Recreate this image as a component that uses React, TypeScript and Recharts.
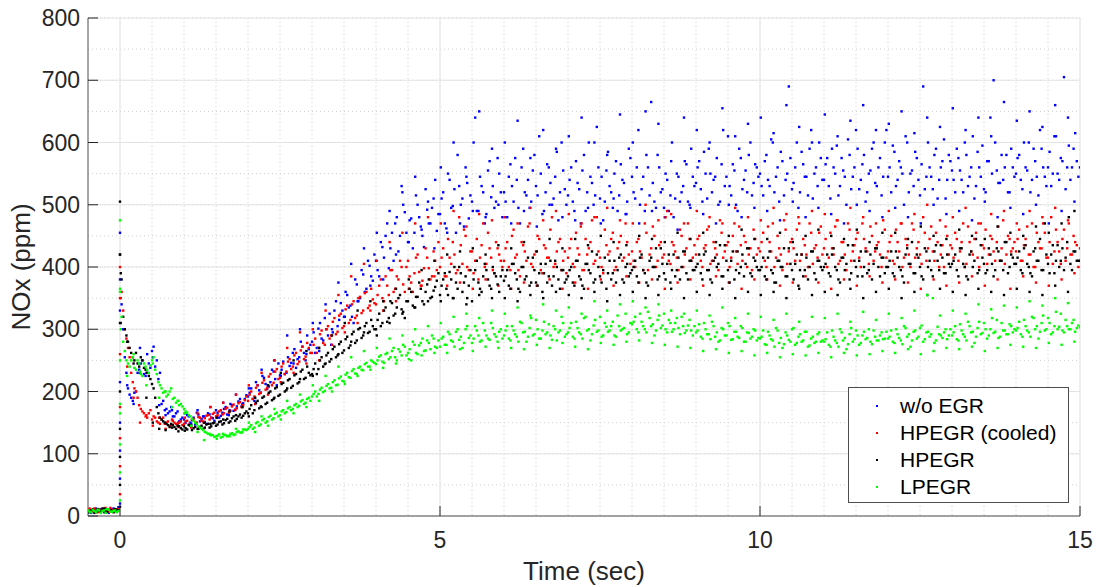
import {
  CartesianGrid,
  Legend,
  Scatter,
  ScatterChart,
  XAxis,
  YAxis,
} from 'recharts';

// three interleaved sample sets:
// A every 0.05 s from -0.5 s to 15 s, B every 0.05 s from -0.475 s,
// C (band edges) every 0.1 s from 0.0125 s
const T0_A = -0.5;
const T0_B = -0.475;
const T0_C = 0.0125;
const STEP = 0.05;
const STEP_C = 0.1;

const blueNoxA = [
  8, 5, 10, 7, 11, 6, 9, 8, 12, 7,
  380, 300, 230, 195, 185, 200, 235, 250, 225, 245, 265, 240, 220, 180, 170, 165, 175, 160, 168, 155,
  155, 162, 150, 158, 166, 152, 160, 148, 163, 157, 170, 158, 166, 175, 162, 178, 171, 184, 176, 188,
  192, 205, 185, 210, 198, 222, 204, 215, 232, 210, 226, 248, 230, 241, 262, 238, 255, 272, 250, 268,
  280, 262, 301, 285, 318, 290, 275, 330, 305, 342, 320, 355, 338, 310, 372, 350, 388, 365, 402, 378,
  410, 385, 432, 450, 398, 455, 470, 425, 530, 488, 440, 478, 455, 500, 465, 432, 492, 470, 510, 458,
  485, 520, 462, 540, 498, 455, 530, 510, 560, 478, 505, 640, 490, 530, 470, 555, 512, 495, 575, 520,
  520, 480, 565, 505, 540, 470, 590, 515, 495, 555, 530, 610, 485, 520, 560, 500, 545, 475, 600, 525,
  515, 560, 490, 535, 470, 580, 520, 545, 500, 625, 510, 475, 555, 530, 495, 570, 515, 540, 485, 590,
  545, 510, 620, 525, 490, 560, 665, 505, 580, 520, 495, 540, 515, 480, 550, 505, 530, 565, 500, 545,
  535, 570, 505, 550, 590, 520, 545, 500, 565, 530, 610, 515, 555, 490, 575, 540, 520, 600, 535, 560,
  550, 515, 580, 530, 600, 545, 505, 570, 540, 690, 525, 560, 495, 585, 545, 515, 620, 550, 530, 575,
  540, 575, 510, 560, 595, 530, 555, 500, 580, 545, 620, 525, 565, 505, 550, 590, 535, 560, 515, 600,
  545, 520, 585, 540, 560, 500, 600, 550, 530, 575, 515, 690, 545, 560, 525, 590, 540, 570, 510, 580,
  555, 520, 575, 540, 600, 530, 560, 510, 585, 545, 525, 570, 640, 700, 555, 535, 540, 580, 520, 560,
  550, 580, 525, 560, 600, 540, 570, 515, 590, 545, 560, 530, 610, 550, 575, 705, 560, 540, 590, 570,
  560,
];
const blueNoxB = [
  6, 9, 12, 7, 10, 8, 5, 11, 9, 14,
  340, 255, 205, 190, 198, 230, 245, 228, 260, 238, 272, 250, 230, 185, 172, 168, 160, 165, 152, 158,
  150, 160, 154, 147, 163, 156, 151, 165, 158, 153, 166, 161, 172, 163, 180, 169, 176, 188, 181, 194,
  198, 188, 215, 202, 225, 212, 208, 235, 220, 245, 235, 228, 255, 246, 268, 252, 280, 262, 290, 275,
  295, 270, 310, 282, 300, 325, 295, 345, 315, 330, 360, 335, 320, 380, 345, 395, 360, 410, 385, 420,
  395, 440, 415, 470, 430, 410, 480, 450, 500, 455, 475, 430, 515, 480, 450, 525, 470, 495, 540, 485,
  510, 470, 550, 495, 525, 580, 500, 465, 535, 515, 600, 490, 545, 520, 485, 570, 530, 505, 550, 480,
  505, 545, 530, 575, 495, 560, 520, 540, 505, 580, 515, 550, 490, 565, 535, 510, 585, 520, 555, 500,
  540, 505, 570, 525, 555, 490, 600, 535, 515, 560, 545, 505, 585, 520, 550, 490, 565, 535, 505, 575,
  520, 560, 500, 545, 580, 515, 535, 495, 560, 525, 550, 490, 600, 510, 545, 520, 570, 505, 590, 530,
  560, 525, 585, 510, 550, 540, 575, 505, 620, 545, 530, 565, 500, 590, 525, 555, 580, 515, 565, 545,
  530, 570, 540, 605, 520, 560, 585, 515, 550, 575, 535, 600, 520, 565, 545, 590, 510, 560, 600, 540,
  565, 530, 590, 550, 515, 575, 545, 605, 525, 560, 590, 540, 580, 520, 555, 600, 530, 575, 545, 620,
  560, 595, 530, 570, 550, 610, 520, 555, 585, 540, 565, 525, 600, 545, 580, 510, 560, 605, 540, 570,
  540, 590, 555, 520, 580, 545, 610, 530, 560, 595, 520, 570, 550, 600, 535, 580, 560, 520, 590, 545,
  575, 540, 600, 555, 520, 590, 545, 620, 560, 530, 585, 550, 610, 540, 570, 525, 595, 560, 615, 545,
];
const blueNoxC = [
  310, 210, 180, 270, 230, 255, 178, 162, 170, 150,
  165, 148, 170, 160, 175, 158, 182, 170, 195, 180,
  205, 180, 235, 210, 250, 225, 290, 245, 300, 260,
  310, 265, 340, 300, 375, 320, 405, 345, 430, 370,
  455, 380, 490, 420, 520, 440, 545, 460, 505, 430,
  560, 455, 600, 470, 545, 490, 650, 480, 590, 500,
  600, 470, 635, 490, 575, 465, 620, 500, 590, 480,
  610, 475, 640, 495, 600, 470, 580, 510, 645, 485,
  600, 470, 650, 490, 630, 480, 570, 460, 640, 495,
  620, 485, 600, 470, 655, 500, 610, 480, 630, 495,
  640, 490, 615, 475, 660, 505, 625, 480, 600, 495,
  645, 485, 610, 470, 635, 500, 660, 490, 620, 480,
  630, 495, 650, 480, 615, 470, 640, 500, 625, 485,
  655, 490, 620, 475, 640, 505, 610, 480, 665, 495,
  635, 485, 650, 500, 625, 470, 660, 490, 640, 505,
];

const redNoxA = [
  10, 7, 12, 6, 9, 11, 8, 13, 7, 10,
  400, 330, 285, 255, 215, 200, 178, 168, 160, 165, 155, 158, 150, 155, 148, 152, 146, 150, 147, 152,
  148, 153, 145, 156, 150, 158, 152, 161, 155, 164, 160, 168, 163, 172, 166, 176, 170, 181, 175, 186,
  185, 200, 192, 210, 198, 218, 206, 228, 214, 236, 222, 245, 232, 252, 240, 262, 248, 272, 256, 270,
  262, 285, 270, 298, 275, 305, 290, 318, 296, 325, 305, 338, 315, 345, 322, 352, 330, 360, 338, 348,
  340, 370, 350, 385, 355, 395, 365, 380, 400, 360, 410, 375, 390, 420, 370, 398, 415, 380, 425, 395,
  400, 430, 385, 415, 440, 390, 480, 405, 450, 395, 425, 410, 380, 435, 400, 455, 415, 390, 430, 410,
  410, 440, 395, 460, 420, 385, 435, 410, 470, 400, 425, 445, 390, 430, 415, 480, 405, 440, 395, 425,
  415, 445, 400, 430, 465, 395, 420, 440, 405, 480, 415, 390, 435, 425, 455, 400, 440, 410, 470, 420,
  425, 400, 445, 415, 470, 395, 430, 450, 410, 440, 420, 490, 405, 435, 415, 460, 400, 430, 445, 415,
  420, 450, 400, 435, 465, 410, 430, 395, 455, 425, 440, 415, 470, 405, 435, 450, 400, 430, 460, 420,
  425, 455, 400, 440, 470, 415, 430, 395, 460, 425, 445, 410, 480, 420, 435, 400, 455, 430, 415, 465,
  430, 400, 455, 420, 475, 410, 440, 395, 460, 425, 445, 415, 470, 430, 405, 450, 425, 440, 400, 460,
  425, 450, 405, 440, 470, 415, 435, 400, 460, 430, 420, 480, 410, 445, 425, 455, 400, 435, 465, 420,
  430, 455, 410, 440, 400, 465, 425, 445, 415, 470, 430, 405, 450, 425, 440, 410, 475, 420, 445, 430,
  425, 460, 410, 445, 420, 470, 400, 440, 430, 455, 415, 480, 425, 440, 405, 460, 430, 420, 450, 435,
  430,
];
const redNoxB = [
  12, 8, 6, 11, 9, 13, 7, 10, 8, 11,
  360, 300, 270, 230, 205, 190, 172, 165, 158, 170, 160, 152, 148, 158, 150, 145, 153, 148, 150, 146,
  152, 147, 155, 150, 159, 153, 157, 162, 158, 166, 162, 170, 165, 174, 169, 179, 173, 183, 178, 192,
  195, 188, 206, 196, 214, 203, 224, 210, 232, 220, 240, 228, 248, 236, 258, 244, 266, 252, 278, 262,
  275, 262, 292, 278, 300, 285, 312, 292, 322, 302, 332, 310, 340, 318, 350, 326, 358, 334, 365, 342,
  355, 380, 345, 370, 395, 360, 385, 410, 372, 400, 385, 360, 415, 392, 378, 430, 398, 385, 410, 440,
  415, 385, 445, 405, 420, 395, 435, 460, 400, 425, 390, 445, 415, 470, 405, 430, 395, 440, 420, 400,
  430, 400, 450, 415, 395, 440, 425, 465, 405, 420, 450, 395, 435, 415, 460, 400, 425, 445, 410, 390,
  430, 405, 455, 420, 395, 445, 430, 475, 410, 425, 400, 460, 420, 445, 395, 430, 450, 415, 440, 405,
  410, 440, 425, 395, 455, 420, 465, 400, 435, 415, 480, 410, 440, 425, 395, 450, 420, 470, 410, 435,
  445, 410, 430, 460, 405, 440, 420, 475, 415, 435, 400, 450, 425, 465, 410, 440, 420, 395, 445, 430,
  440, 410, 465, 425, 400, 450, 420, 475, 405, 440, 430, 460, 410, 445, 420, 470, 405, 435, 455, 420,
  445, 415, 430, 465, 405, 440, 420, 470, 410, 435, 455, 400, 445, 425, 465, 410, 435, 420, 475, 415,
  440, 410, 460, 425, 400, 445, 420, 470, 415, 440, 405, 455, 430, 465, 410, 440, 420, 400, 450, 435,
  415, 445, 425, 470, 405, 440, 420, 455, 400, 435, 460, 420, 445, 410, 465, 430, 405, 450, 425, 440,
  445, 410, 435, 465, 420, 400, 455, 430, 470, 415, 440, 405, 460, 425, 445, 410, 470, 420, 440, 400,
];
const redNoxC = [
  350, 240, 190, 150, 162, 145, 158, 140, 155, 143,
  158, 142, 165, 150, 175, 160, 182, 168, 195, 175,
  210, 180, 230, 195, 250, 215, 270, 230, 295, 245,
  300, 250, 330, 275, 355, 295, 385, 310, 405, 330,
  410, 330, 440, 345, 455, 365, 470, 370, 480, 385,
  470, 370, 490, 375, 465, 365, 485, 380, 475, 370,
  480, 365, 470, 375, 495, 370, 475, 380, 490, 365,
  485, 375, 470, 365, 480, 380, 495, 370, 475, 385,
  470, 375, 500, 380, 475, 365, 485, 375, 470, 380,
  490, 370, 480, 385, 470, 375, 495, 365, 480, 380,
  475, 380, 495, 370, 485, 375, 470, 385, 490, 375,
  485, 365, 475, 380, 495, 370, 480, 385, 470, 375,
  490, 380, 470, 375, 485, 365, 500, 380, 475, 370,
  480, 375, 495, 385, 470, 370, 485, 380, 490, 365,
  470, 385, 490, 375, 480, 370, 495, 380, 475, 390,
];

const blackNoxA = [
  6, 9, 5, 11, 8, 12, 7, 9, 6, 10,
  420, 320, 290, 270, 255, 262, 240, 250, 235, 225, 212, 190, 165, 155, 150, 146, 148, 143, 145, 141,
  144, 139, 146, 141, 148, 143, 140, 147, 142, 149, 145, 151, 147, 154, 150, 157, 153, 160, 158, 165,
  165, 178, 170, 185, 176, 192, 182, 200, 188, 207, 195, 214, 202, 220, 209, 228, 215, 235, 222, 230,
  228, 245, 236, 255, 244, 262, 252, 272, 258, 280, 266, 288, 274, 296, 282, 302, 290, 310, 296, 305,
  300, 325, 310, 335, 318, 342, 325, 350, 332, 318, 345, 360, 335, 352, 365, 340, 372, 350, 362, 378,
  355, 380, 365, 392, 350, 375, 400, 360, 385, 370, 345, 395, 375, 360, 405, 380, 365, 390, 372, 385,
  378, 395, 365, 405, 380, 360, 400, 385, 370, 415, 375, 390, 360, 405, 385, 370, 410, 380, 395, 375,
  385, 400, 370, 410, 380, 365, 405, 390, 375, 420, 385, 395, 365, 410, 390, 375, 415, 380, 400, 385,
  395, 410, 375, 420, 390, 370, 415, 400, 380, 430, 390, 405, 375, 420, 395, 380, 425, 390, 410, 395,
  400, 420, 380, 425, 395, 375, 415, 405, 385, 435, 395, 410, 380, 425, 400, 385, 430, 390, 415, 400,
  395, 415, 380, 425, 390, 375, 410, 400, 385, 430, 395, 405, 370, 420, 395, 380, 425, 390, 410, 400,
  400, 420, 385, 430, 395, 375, 415, 405, 380, 435, 400, 410, 385, 425, 395, 380, 430, 400, 415, 390,
  400, 425, 385, 415, 395, 375, 430, 405, 390, 420, 400, 380, 425, 410, 385, 435, 395, 415, 390, 405,
  405, 420, 385, 430, 400, 380, 425, 410, 390, 435, 405, 395, 420, 385, 430, 410, 395, 440, 400, 415,
  405, 425, 390, 435, 400, 385, 430, 410, 395, 470, 405, 420, 390, 435, 410, 395, 440, 405, 425, 410,
  410,
];
const blackNoxB = [
  8, 11, 7, 9, 12, 6, 10, 8, 11, 9,
  380, 300, 280, 262, 250, 245, 255, 238, 230, 220, 205, 175, 158, 152, 148, 143, 146, 140, 144, 139,
  141, 146, 138, 143, 140, 145, 142, 148, 144, 150, 147, 152, 149, 156, 152, 160, 156, 163, 161, 168,
  172, 165, 182, 173, 190, 180, 198, 186, 205, 193, 212, 200, 218, 206, 226, 213, 232, 220, 240, 226,
  236, 228, 250, 240, 258, 248, 268, 255, 276, 262, 284, 270, 292, 278, 300, 286, 305, 294, 315, 300,
  315, 305, 330, 312, 345, 322, 335, 355, 328, 345, 365, 338, 352, 375, 345, 360, 380, 352, 368, 390,
  370, 390, 355, 380, 400, 365, 390, 375, 350, 395, 380, 410, 365, 385, 395, 370, 400, 385, 360, 395,
  385, 370, 405, 390, 365, 400, 380, 415, 375, 395, 370, 405, 390, 375, 410, 385, 400, 365, 395, 380,
  395, 375, 410, 385, 370, 405, 395, 425, 380, 400, 375, 415, 390, 380, 410, 395, 420, 375, 405, 390,
  400, 385, 415, 395, 375, 410, 400, 430, 385, 405, 380, 420, 395, 385, 415, 400, 425, 380, 410, 395,
  405, 390, 420, 395, 380, 410, 400, 435, 385, 410, 375, 425, 395, 390, 420, 405, 430, 385, 410, 395,
  400, 385, 415, 395, 375, 410, 400, 430, 385, 405, 380, 420, 395, 385, 415, 400, 425, 380, 410, 395,
  405, 390, 420, 400, 380, 415, 395, 435, 390, 410, 385, 425, 400, 390, 420, 405, 430, 385, 415, 400,
  410, 390, 425, 400, 385, 420, 405, 440, 390, 415, 385, 430, 400, 395, 425, 410, 435, 390, 420, 400,
  410, 395, 430, 405, 385, 420, 400, 445, 395, 415, 390, 430, 405, 395, 425, 410, 440, 390, 420, 405,
  415, 395, 430, 405, 390, 425, 410, 445, 395, 420, 390, 435, 410, 400, 430, 415, 480, 395, 425, 410,
];
const blackNoxC = [
  390, 280, 245, 230, 190, 150, 140, 138, 142, 136,
  137, 145, 140, 150, 148, 158, 155, 168, 162, 175,
  160, 190, 175, 210, 190, 230, 205, 250, 220, 265,
  225, 270, 245, 290, 260, 310, 280, 330, 295, 345,
  290, 345, 310, 365, 325, 380, 335, 395, 345, 410,
  345, 420, 350, 425, 340, 430, 355, 420, 350, 435,
  350, 430, 345, 440, 355, 425, 350, 445, 360, 430,
  355, 445, 350, 435, 360, 450, 345, 440, 355, 435,
  360, 450, 350, 445, 355, 440, 365, 455, 350, 445,
  360, 455, 355, 440, 365, 450, 350, 460, 360, 445,
  355, 445, 360, 455, 350, 440, 365, 450, 355, 460,
  360, 450, 355, 445, 365, 460, 350, 440, 360, 455,
  365, 455, 350, 445, 360, 465, 355, 450, 365, 445,
  360, 460, 355, 450, 365, 445, 360, 465, 355, 455,
  365, 450, 360, 465, 355, 455, 370, 470, 360, 490,
];

const greenNoxA = [
  9, 6, 8, 10, 5, 9, 11, 7, 8, 6,
  360, 280, 250, 240, 255, 235, 245, 225, 240, 230, 250, 235, 215, 205, 200, 195, 205, 190, 185, 180,
  172, 166, 160, 153, 148, 142, 138, 134, 132, 130, 128, 131, 127, 130, 129, 133, 131, 136, 134, 139,
  140, 146, 142, 151, 147, 156, 152, 161, 157, 166, 162, 170, 167, 175, 172, 180, 177, 186, 182, 190,
  192, 200, 196, 206, 201, 212, 206, 218, 211, 224, 216, 230, 222, 236, 228, 240, 234, 246, 240, 248,
  244, 256, 248, 260, 252, 265, 255, 268, 258, 272, 262, 250, 275, 260, 278, 265, 282, 268, 285, 270,
  272, 288, 275, 292, 280, 296, 283, 270, 300, 286, 278, 305, 290, 282, 298, 285, 310, 292, 280, 300,
  290, 305, 282, 298, 288, 312, 295, 280, 302, 290, 315, 285, 298, 292, 308, 283, 300, 295, 320, 288,
  295, 310, 285, 302, 292, 318, 298, 282, 306, 296, 320, 290, 304, 298, 312, 288, 305, 300, 325, 295,
  308, 320, 295, 312, 300, 328, 305, 290, 315, 302, 325, 295, 310, 300, 318, 292, 305, 298, 315, 290,
  295, 308, 285, 300, 292, 312, 288, 280, 302, 290, 310, 283, 296, 288, 305, 280, 295, 285, 300, 282,
  285, 298, 275, 290, 282, 302, 278, 270, 295, 283, 300, 275, 288, 280, 296, 272, 285, 278, 292, 280,
  280, 295, 272, 288, 278, 300, 282, 268, 292, 280, 298, 275, 290, 284, 300, 276, 288, 282, 295, 285,
  285, 298, 278, 292, 282, 305, 288, 272, 296, 285, 302, 280, 295, 288, 350, 282, 292, 286, 300, 290,
  290, 305, 282, 298, 288, 312, 295, 278, 302, 292, 310, 285, 300, 294, 315, 288, 298, 292, 308, 295,
  298, 312, 288, 305, 295, 320, 300, 285, 310, 298, 318, 292, 305, 300, 325, 295, 305, 300, 315, 302,
  303,
];
const greenNoxB = [
  7, 10, 6, 9, 8, 5, 10, 7, 9, 8,
  320, 265, 245, 250, 238, 250, 228, 245, 235, 242, 255, 228, 210, 198, 192, 200, 188, 182, 178, 176,
  168, 162, 156, 150, 144, 140, 135, 132, 130, 127, 129, 126, 130, 128, 132, 130, 135, 134, 139, 138,
  143, 140, 149, 145, 154, 150, 159, 155, 164, 160, 168, 165, 173, 170, 178, 175, 184, 180, 188, 185,
  196, 192, 203, 199, 209, 205, 215, 210, 221, 217, 227, 223, 233, 229, 238, 235, 244, 240, 250, 246,
  250, 258, 246, 262, 255, 270, 250, 264, 275, 258, 268, 280, 262, 274, 285, 266, 278, 290, 272, 282,
  285, 275, 296, 282, 272, 300, 288, 278, 305, 290, 285, 298, 280, 310, 290, 283, 302, 288, 296, 285,
  298, 285, 305, 292, 280, 310, 296, 288, 318, 292, 300, 285, 312, 295, 290, 305, 282, 298, 310, 292,
  302, 288, 312, 295, 285, 320, 300, 292, 315, 298, 288, 310, 296, 305, 290, 322, 298, 302, 292, 310,
  312, 300, 325, 305, 295, 318, 308, 298, 322, 306, 300, 315, 296, 310, 302, 320, 294, 306, 298, 305,
  298, 288, 310, 292, 284, 305, 295, 282, 300, 290, 305, 284, 296, 286, 302, 280, 294, 288, 298, 286,
  288, 276, 296, 284, 272, 298, 286, 276, 290, 280, 302, 278, 292, 282, 296, 274, 288, 280, 295, 282,
  284, 275, 298, 282, 272, 295, 286, 276, 302, 284, 290, 278, 296, 286, 280, 298, 282, 290, 284, 296,
  288, 280, 300, 286, 276, 302, 292, 282, 298, 288, 306, 284, 296, 292, 278, 304, 290, 295, 284, 300,
  295, 284, 308, 292, 282, 305, 296, 288, 312, 294, 300, 290, 318, 296, 286, 310, 298, 292, 305, 300,
  302, 292, 315, 298, 288, 318, 305, 296, 322, 300, 310, 295, 328, 304, 298, 315, 300, 310, 296, 306,
];
const greenNoxC = [
  300, 225, 260, 232, 210, 245, 190, 200, 175, 185,
  165, 145, 135, 122, 130, 124, 132, 128, 140, 135,
  150, 135, 160, 145, 172, 155, 185, 165, 195, 175,
  210, 185, 225, 200, 240, 212, 255, 225, 265, 235,
  270, 238, 285, 245, 290, 252, 300, 258, 305, 262,
  310, 262, 320, 268, 325, 265, 318, 272, 330, 270,
  325, 270, 335, 268, 322, 275, 340, 270, 330, 278,
  335, 272, 325, 268, 345, 278, 330, 275, 340, 280,
  345, 282, 335, 278, 340, 275, 330, 272, 325, 270,
  330, 265, 322, 268, 335, 262, 318, 265, 325, 258,
  320, 262, 315, 255, 325, 260, 312, 258, 320, 262,
  318, 255, 325, 262, 312, 258, 328, 260, 315, 265,
  325, 262, 318, 268, 330, 260, 355, 265, 322, 270,
  330, 268, 325, 272, 340, 265, 332, 270, 338, 275,
  335, 272, 345, 270, 338, 278, 350, 275, 342, 280,
];

// the step at t = 0: points climbing straight up the rise
const onsetBlue = [20, 60, 105, 150, 215, 330, 455];
const onsetRed = [35, 80, 125, 175, 260, 350];
const onsetBlack = [15, 50, 95, 140, 200, 310, 420, 505];
const onsetGreen = [25, 70, 115, 165, 180, 250, 365, 475];

const xTicks = [0, 5, 10, 15];
const yTicks = [0, 100, 200, 300, 400, 500, 600, 700, 800];

const toPoints = (a: number[], b: number[], c: number[], onset: number[]) => [
  ...onset.map((y) => ({ t: 0, y })),
  ...a.map((y, i) => ({ t: +(T0_A + i * STEP).toFixed(4), y })),
  ...b.map((y, i) => ({ t: +(T0_B + i * STEP).toFixed(4), y })),
  ...c.map((y, i) => ({ t: +(T0_C + i * STEP_C).toFixed(4), y })),
];

const series = [
  { name: 'w/o EGR', color: '#0000ff', data: toPoints(blueNoxA, blueNoxB, blueNoxC, onsetBlue) },
  { name: 'HPEGR (cooled)', color: '#ff0000', data: toPoints(redNoxA, redNoxB, redNoxC, onsetRed) },
  { name: 'HPEGR', color: '#000000', data: toPoints(blackNoxA, blackNoxB, blackNoxC, onsetBlack) },
  { name: 'LPEGR', color: '#00ff00', data: toPoints(greenNoxA, greenNoxB, greenNoxC, onsetGreen) },
];

const minorX: number[] = [];
for (let v = -0.5; v <= 15; v += 0.5) minorX.push(v);
const minorY: number[] = [];
for (let v = 0; v <= 800; v += 25) minorY.push(v);

const FONT = '"Liberation Sans", Arial, Helvetica, sans-serif';
const INK = '#262626';

const Dot = (p: any) => (
  <rect x={p.cx - 1.2} y={p.cy - 1.2} width={2.4} height={2.4} fill={p.fill} />
);

const LegendBox = () => (
  <div
    style={{
      width: 221,
      height: 116,
      boxSizing: 'border-box',
      background: '#fff',
      border: '1px solid #4d4d4d',
      fontFamily: FONT,
      fontSize: 21,
      color: '#000',
      paddingTop: 4,
    }}
  >
    {series.map((s) => (
      <div key={s.name} style={{ display: 'flex', alignItems: 'center', height: 27 }}>
        <span
          style={{
            width: 2,
            height: 2,
            background: s.color,
            marginLeft: 27,
            marginRight: 22,
          }}
        />
        <span>{s.name}</span>
      </div>
    ))}
  </div>
);

export default function App() {
  return (
    <div style={{ position: 'absolute', left: 0, top: 0, background: '#fff', fontFamily: FONT }}>
      <ScatterChart width={1100} height={587} margin={{ top: 18, right: 20, left: 0, bottom: 0 }}>
        <CartesianGrid
          verticalValues={minorX}
          horizontalValues={minorY}
          stroke="#cfcfcf"
          strokeDasharray="1 3"
        />
        <CartesianGrid
          verticalValues={xTicks}
          horizontalValues={yTicks}
          stroke="#e3e3e3"
        />
        <XAxis
          type="number"
          dataKey="t"
          domain={[-0.5, 15]}
          ticks={xTicks}
          allowDataOverflow
          height={71}
          tickSize={-10}
          tickMargin={26}
          axisLine={{ stroke: '#555' }}
          tickLine={{ stroke: INK }}
          tick={{ fontSize: 23, fill: INK, fontFamily: FONT }}
          label={{ value: 'Time (sec)', position: 'insideBottom', offset: 7, fontSize: 26, fill: INK, fontFamily: FONT }}
        />
        <YAxis
          type="number"
          dataKey="y"
          domain={[0, 800]}
          ticks={yTicks}
          allowDataOverflow
          width={88}
          tickSize={-10}
          tickMargin={18}
          axisLine={{ stroke: '#555' }}
          tickLine={{ stroke: INK }}
          tick={{ fontSize: 23, fill: INK, fontFamily: FONT }}
          label={{
            value: 'NOx (ppm)',
            angle: -90,
            position: 'insideLeft',
            offset: 21,
            fontSize: 26,
            fill: INK,
            fontFamily: FONT,
            style: { textAnchor: 'middle' },
          }}
        />
        <Legend
          layout="horizontal"
          align="center"
          verticalAlign="middle"
          wrapperStyle={{ left: 848, top: 387, width: 221, height: 116 }}
          content={() => <LegendBox />}
        />
        {series.map((s) => (
          <Scatter
            key={s.name}
            name={s.name}
            data={s.data}
            fill={s.color}
            shape={Dot}
            isAnimationActive={false}
          />
        ))}
      </ScatterChart>
    </div>
  );
}
